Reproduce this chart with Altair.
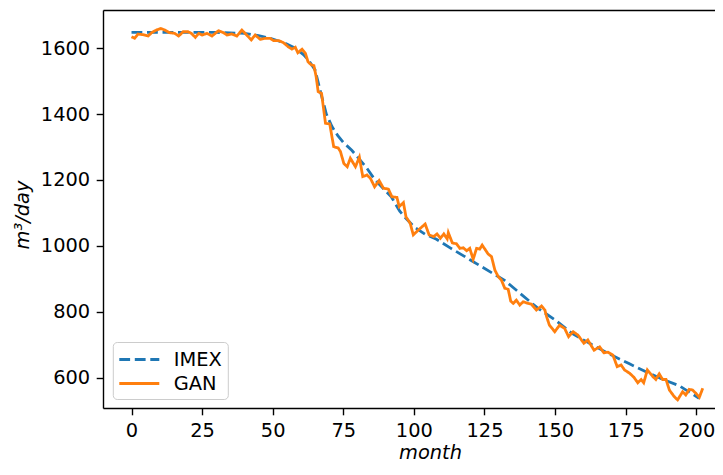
import altair as alt
import pandas as pd

# ---- data ----
series_names = ["IMEX", "GAN"]
series_colors = ["#1f77b4", "#ff7f0e"]

imex_month = [0, 10, 20, 30, 40, 45, 50, 55, 58, 61, 63, 65, 66, 67, 68, 69, 71, 73, 75, 78,
              80, 83, 86, 89, 92, 95, 97, 100, 104, 108, 113, 120, 128, 132, 137, 144, 150,
              156, 163, 170, 176, 182, 188, 194, 201]
imex_value = [1648, 1648, 1648, 1648, 1645, 1638, 1628, 1613, 1600, 1580, 1560, 1534, 1500,
              1465, 1433, 1400, 1362, 1335, 1314, 1290, 1270, 1240, 1203, 1175, 1149, 1105,
              1085, 1058, 1035, 1020, 993, 957, 916, 896, 860, 810, 775, 734, 700, 668, 643,
              618, 595, 575, 537]

gan_month = [0, 1.1, 2.3, 4.1, 5.9, 7.1, 8.8, 10.4, 11.8, 13.5, 15.3, 16.7, 18.3, 20, 21.2,
             22.6, 23.8, 25, 26.7, 28.5, 30.8, 32.6, 33.8, 35.5, 37.3, 39.1, 40.8, 42.4, 43.8,
             45.6, 47.4, 49.1, 50.3, 52.1, 53.8, 55.4, 56.8, 58, 58.9, 60.4, 61.6, 62.5, 63.7,
             64.6, 65.4, 66.1, 67.3, 68.7, 70.2, 71.6, 73.2, 74, 75.2, 76.4, 77.5, 79.3, 80.7,
             81.9, 83.4, 84.6, 86.1, 87.7, 89.2, 91, 92.2, 94, 94.8, 96.3, 97.2, 98.7, 99.8,
             101.6, 104, 105.4, 107, 108.2, 109.4, 110.6, 111.8, 112.2, 113.6, 115.1, 116.3,
             117.5, 118.7, 119.8, 121, 122.2, 123.3, 124.2, 126.3, 127.5, 128.7, 129.9, 131,
             132.2, 133.4, 134.3, 135.2, 136.3, 137.5, 138.7, 140.5, 141.6, 143.4, 145.2,
             146.4, 147, 148, 149.9, 151.6, 153.4, 154.8, 156.4, 158.1, 160.2, 161.6, 163.8,
             165.8, 167.3, 168.7, 170.5, 172, 173.4, 174.6, 176.4, 177.9, 179.3, 180.5, 181.4,
             182.7, 184.6, 185.7, 186.9, 188.1, 189.3, 190.5, 192.2, 193.4, 195.2, 196.3,
             197.5, 198.7, 199.9, 201.1, 202.3]
gan_value = [1635, 1630, 1643, 1641, 1637, 1647, 1655, 1660, 1655, 1647, 1645, 1637, 1650,
             1650, 1645, 1633, 1645, 1640, 1645, 1637, 1653, 1647, 1640, 1643, 1637, 1655,
             1640, 1625, 1640, 1627, 1630, 1630, 1623, 1623, 1617, 1605, 1597, 1603, 1586,
             1597, 1584, 1559, 1549, 1547, 1513, 1468, 1463, 1372, 1370, 1301, 1297, 1286,
             1250, 1240, 1266, 1240, 1269, 1210, 1215, 1205, 1179, 1198, 1175, 1172, 1149,
             1147, 1119, 1131, 1088, 1068, 1033, 1048, 1066, 1033, 1028, 1036, 1023, 1036,
             1021, 1040, 1009, 1006, 992, 994, 985, 992, 959, 992, 990, 1002, 975, 967, 926,
             906, 896, 871, 868, 832, 825, 835, 820, 830, 825, 823, 805, 817, 805, 785, 759,
             739, 759, 749, 724, 739, 729, 704, 714, 683, 693, 675, 677, 668, 633, 638, 623,
             613, 601, 584, 594, 584, 623, 603, 594, 611, 594, 594, 562, 542, 532, 557, 547,
             564, 562, 552, 540, 567]

x_ticks = [0, 25, 50, 75, 100, 125, 150, 175, 200]
y_ticks = [600, 800, 1000, 1200, 1400, 1600]
x_title = "month"
y_title = "m³/day"

df = pd.concat([
    pd.DataFrame({"series": "IMEX", "month": imex_month, "value": imex_value}),
    pd.DataFrame({"series": "GAN", "month": gan_month, "value": gan_value}),
], ignore_index=True)

FONT = "DejaVu Sans"
FS = 19.4
W, H = 612, 398
xscale = alt.Scale(domain=[-10.1, 206.65], nice=False, zero=False)
yscale = alt.Scale(domain=[507.4, 1716], nice=False, zero=False)

legend = alt.Legend(
    title=None, orient="none", legendX=9.8, legendY=332,
    symbolType="M-2,0H2", symbolSize=400, symbolStrokeWidth=2.8, symbolOffset=9,
    labelFont=FONT, labelFontSize=FS, labelColor="black", labelOffset=23,
    padding=6, rowPadding=3, fillColor="white", strokeColor="#cccccc",
    cornerRadius=4,
)

y_axis = alt.Axis(
    values=y_ticks, format="d", grid=False,
    labelFont=FONT, labelFontSize=FS, labelColor="black", labelPadding=6.5,
    labelFlush=False, tickSize=6.8, tickWidth=1.4, tickColor="black",
    domainColor="black", domainWidth=1.4,
    title=y_title, titleFont=FONT, titleFontSize=FS, titleFontStyle="italic",
    titleFontWeight="normal", titleColor="black", titleX=-80.5, titleY=204.5,
    titleAlign="center", titleBaseline="middle", titleAngle=-90)

lines = alt.Chart(df).mark_line(strokeWidth=2.8).encode(
    x=alt.X("month:Q", scale=xscale, axis=alt.Axis(
        orient="bottom", values=x_ticks, format="d", grid=False,
        labelFont=FONT, labelFontSize=FS, labelColor="black", labelPadding=7,
        labelFlush=False, tickSize=6.8, tickWidth=1.4, tickColor="black",
        domainColor="black", domainWidth=1.4,
        title=x_title, titleFont=FONT, titleFontSize=FS, titleFontStyle="italic",
        titleFontWeight="normal", titleColor="black", titleX=327, titleY=50,
        titleAlign="center", titleBaseline="alphabetic")),
    y=alt.Y("value:Q", scale=yscale, axis=y_axis),
    color=alt.Color("series:N", scale=alt.Scale(domain=series_names, range=series_colors),
                    sort=series_names, legend=legend),
    strokeDash=alt.StrokeDash("series:N", scale=alt.Scale(domain=series_names,
                                                          range=[[10.8, 4.7], [1, 0]]),
                              sort=series_names, legend=legend),
)

top_spine = alt.Chart(df).mark_line(strokeOpacity=0).encode(
    x=alt.X("month:Q", scale=xscale, axis=alt.Axis(
        orient="top", labels=False, ticks=False, title=None, grid=False,
        domainColor="black", domainWidth=1.4)),
    y=alt.Y("value:Q", scale=yscale, axis=y_axis),
    detail="series:N",
)

chart = alt.layer(lines, top_spine).properties(
    width=W, height=H,
    padding={"left": 95, "top": 2, "right": 0, "bottom": 55},
    autosize=alt.AutoSizeParams(type="none"),
).configure_view(stroke=None).configure(background="white")

chart.save("out.html", embed_options={"renderer": "svg", "actions": False})
